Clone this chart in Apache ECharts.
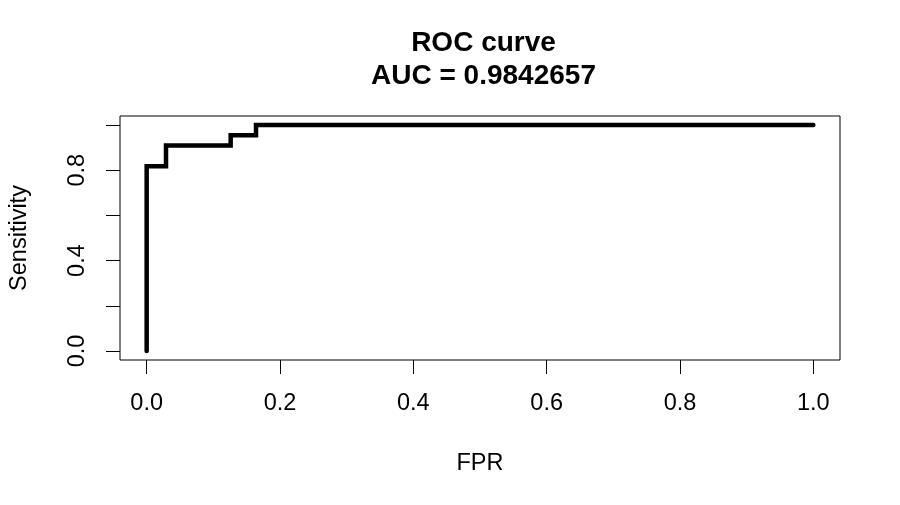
<!DOCTYPE html>
<html>
<head>
<meta charset="utf-8">
<script src="https://cdn.jsdelivr.net/npm/echarts@6/dist/echarts.min.js"></script>
<style>
html,body{margin:0;padding:0;background:#fff;}
#chart{width:900px;height:505px;}
</style>
</head>
<body>
<div id="chart"></div>
<script>
// Data
const fpr = [0, 0, 0.029, 0.029, 0.126, 0.126, 0.164, 0.164, 1.0];
const tpr = [0, 0.818, 0.818, 0.909, 0.909, 0.955, 0.955, 1.0, 1.0];
const xTicks = [0, 0.2, 0.4, 0.6, 0.8, 1.0];
const yTicks = [0, 0.2, 0.4, 0.6, 0.8, 1.0];
const yLabels = [0, 0.4, 0.8];
const titleText = 'ROC curve\nAUC = 0.9842657';
const xName = 'FPR';
const yName = 'Sensitivity';

const FONT = "'Liberation Sans', Arial, Helvetica, sans-serif";
const GRID = { left: 117, right: 60, top: 116, bottom: 145 };
const chart = echarts.init(document.getElementById('chart'));
const plotCenterX = GRID.left + (900 - GRID.left - GRID.right) / 2;
chart.setOption({
  backgroundColor: '#ffffff',
  animation: false,
  title: {
    text: titleText,
    left: plotCenterX,
    textAlign: 'center',
    top: 22,
    textStyle: { fontFamily: FONT, fontSize: 28, fontWeight: 'bold', color: '#000', lineHeight: 33 }
  },
  grid: Object.assign({ show: true, borderColor: '#000', borderWidth: 1, backgroundColor: 'transparent' }, GRID),
  xAxis: {
    type: 'value', min: -0.04, max: 1.04,
    name: xName, nameLocation: 'middle', nameGap: 92,
    nameTextStyle: { fontFamily: FONT, fontSize: 23.5, color: '#000' },
    axisLine: { show: false, onZero: false },
    axisTick: { show: true, inside: false, length: 14, customValues: xTicks, lineStyle: { color: '#000', width: 1 } },
    axisLabel: { show: true, customValues: xTicks, margin: 32, fontFamily: FONT, fontSize: 23.5, color: '#000',
      formatter: v => v.toFixed(1) },
    splitLine: { show: false }
  },
  yAxis: {
    type: 'value', min: -0.04, max: 1.04,
    name: yName, nameLocation: 'middle', nameGap: 88, nameRotate: 90,
    nameTextStyle: { fontFamily: FONT, fontSize: 23.5, color: '#000' },
    axisLine: { show: false, onZero: false },
    axisTick: { show: true, inside: false, length: 14, customValues: yTicks, lineStyle: { color: '#000', width: 1 } },
    axisLabel: { show: true, customValues: yLabels, rotate: 90, margin: 30, fontFamily: FONT, fontSize: 23.5, color: '#000',
      formatter: v => v.toFixed(1) },
    splitLine: { show: false }
  },
  series: [{
    type: 'line',
    data: fpr.map((x, i) => [x, tpr[i]]),
    showSymbol: false,
    symbol: 'none',
    lineStyle: { color: '#000', width: 4.5, cap: 'round', join: 'miter' },
    clip: false
  }]
});
</script>
</body>
</html>
